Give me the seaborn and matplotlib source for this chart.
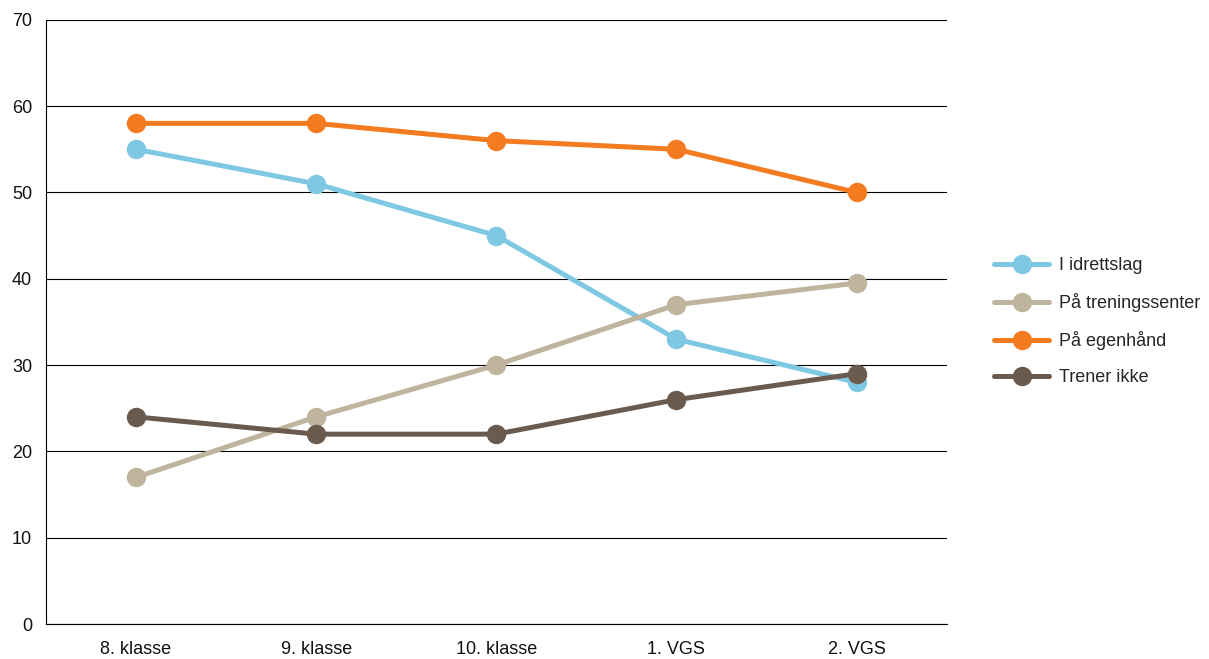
import matplotlib.pyplot as plt
import pandas as pd
import seaborn as sns

# Dados
trinn = ["8. klasse", "9. klasse", "10. klasse", "1. VGS", "2. VGS"]
idrettslag = [55, 51, 45, 33, 28]
treningssenter = [17, 24, 30, 37, 39.5]
egenhaand = [58, 58, 56, 55, 50]
trener_ikke = [24, 22, 22, 26, 29]

serier = {
    "I idrettslag": idrettslag,
    "På treningssenter": treningssenter,
    "På egenhånd": egenhaand,
    "Trener ikke": trener_ikke,
}
rader = []
for navn, verdier in serier.items():
    for t, v in zip(trinn, verdier):
        rader.append({"trinn": t, "andel": v, "gruppe": navn})
df = pd.DataFrame(rader)

sns.set_style("white")
plt.rcParams['font.family'] = ['Liberation Sans', 'DejaVu Sans']
cores = {"I idrettslag": "#7EC8E3", "På treningssenter": "#BFB59E",
         "På egenhånd": "#F47B20", "Trener ikke": "#6B5B4E"}

fig = plt.figure(figsize=(12.09, 6.59), dpi=100)
ax = fig.add_axes([0.038, 0.053, 0.745, 0.917])

sns.lineplot(data=df, x='trinn', y='andel', hue='gruppe', palette=cores,
             marker='o', markersize=14, markeredgewidth=0, linewidth=3.6,
             sort=False, ax=ax, zorder=3)

ax.set_xlim(-0.5, 4.5)
ax.set_ylim(0, 70)
ax.set_yticks(range(0, 71, 10))
ax.yaxis.grid(True, color='black', linewidth=0.8)
ax.set_axisbelow(True)
ax.set_xlabel('')
ax.set_ylabel('')
for s in ['top', 'right']:
    ax.spines[s].set_visible(False)
for s in ['left', 'bottom']:
    ax.spines[s].set_color('black')
    ax.spines[s].set_linewidth(0.8)
ax.tick_params(axis='y', length=0, labelsize=13, colors='#111111', pad=10)
ax.tick_params(axis='x', length=0, labelsize=13, colors='#111111', pad=12)

ax.legend(loc='center left', bbox_to_anchor=(1.035, 0.5), frameon=False,
          fontsize=13, handlelength=3.0, labelspacing=1.05, handletextpad=0.6)

fig.savefig('out.png', dpi=100)
